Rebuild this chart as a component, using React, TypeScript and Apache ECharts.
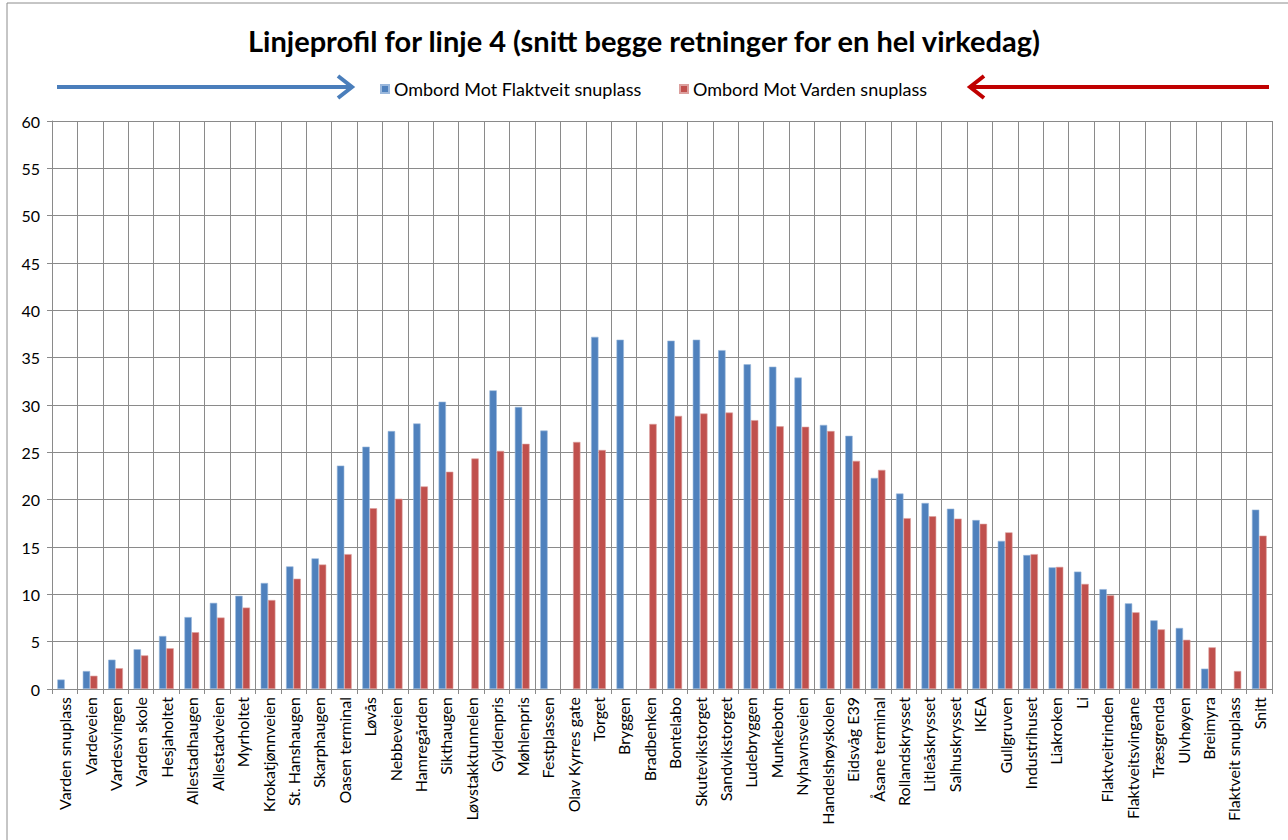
import React, { useEffect, useRef } from "react";
import * as echarts from "echarts";

const stations: string[] = [
  "Varden snuplass", "Vardeveien", "Vardesvingen", "Varden skole", "Hesjaholtet",
  "Allestadhaugen", "Allestadveien", "Myrholtet", "Krokatjønnveien", "St. Hanshaugen",
  "Skarphaugen", "Oasen terminal", "Løvås", "Nebbeveien", "Hamregården", "Sikthaugen",
  "Løvstakktunnelen", "Gyldenpris", "Møhlenpris", "Festplassen", "Olav Kyrres gate",
  "Torget", "Bryggen", "Bradbenken", "Bontelabo", "Skutevikstorget", "Sandvikstorget",
  "Ludebryggen", "Munkebotn", "Nyhavnsveien", "Handelshøyskolen", "Eidsvåg E39",
  "Åsane terminal", "Rollandskrysset", "Litleåskrysset", "Salhuskrysset", "IKEA",
  "Gullgruven", "Industrihuset", "Liakroken", "Li", "Flaktveitrinden", "Flaktveitsvingane",
  "Træsgrenda", "Ulvhøyen", "Breimyra", "Flaktveit snuplass", "Snitt",
];

const towardFlaktveit: (number | null)[] = [
  1.0, 1.9, 3.1, 4.2, 5.6, 7.6, 9.1, 9.85, 11.2, 12.95, 13.8, 23.6, 25.6, 27.25, 28.05,
  30.35, null, 31.55, 29.8, 27.3, null, 37.2, 36.9, null, 36.8, 36.9, 35.8, 34.3, 34.05,
  32.9, 27.9, 26.75, 22.3, 20.65, 19.65, 19.05, 17.85, 15.65, 14.15, 12.85, 12.4, 10.55,
  9.05, 7.25, 6.45, 2.15, null, 18.95,
];

const towardVarden: (number | null)[] = [
  null, 1.4, 2.2, 3.55, 4.3, 6.0, 7.55, 8.6, 9.4, 11.65, 13.15, 14.25, 19.1, 20.1, 21.4,
  22.95, 24.35, 25.15, 25.9, null, 26.1, 25.25, null, 28.0, 28.85, 29.1, 29.2, 28.4, 27.75,
  27.7, 27.25, 24.1, 23.15, 18.05, 18.25, 18.0, 17.45, 16.55, 14.25, 12.9, 11.1, 9.9, 8.1,
  6.3, 5.2, 4.4, 1.9, 16.2,
];

const seriesNames = ["Ombord Mot Flaktveit snuplass", "Ombord Mot Varden snuplass"];
const title = "Linjeprofil for linje 4 (snitt begge retninger for en hel virkedag)";

const FONT = "Lato";
const GRID = "#8a8a8a";
const BLUE = "#4F81BD";
const RED = "#C0504D";

export default function App() {
  const ref = useRef<HTMLDivElement>(null);
  useEffect(() => {
    if (!ref.current) return;
    const chart = echarts.init(ref.current, null, { renderer: "svg" });
    chart.setOption({
      animation: false,
      backgroundColor: "#ffffff",
      textStyle: { fontFamily: FONT },
      title: {
        text: title,
        left: "center",
        top: 21,
        textStyle: { fontFamily: FONT, fontSize: 29, fontWeight: "bold", color: "#000" },
      },
      legend: [
        {
          data: [seriesNames[0]],
          left: 375,
          top: 75,
          icon: "rect",
          itemWidth: 8,
          itemHeight: 8,
          textStyle: { fontFamily: FONT, fontSize: 18, color: "#000" },
        },
        {
          data: [seriesNames[1]],
          left: 674,
          top: 75,
          icon: "rect",
          itemWidth: 8,
          itemHeight: 8,
          textStyle: { fontFamily: FONT, fontSize: 18, color: "#000" },
        },
      ],
      grid: { left: 52, right: 16, top: 121, bottom: 151, containLabel: false },
      xAxis: {
        type: "category",
        data: stations,
        boundaryGap: true,
        axisLine: { show: true, lineStyle: { color: GRID, width: 1 } },
        axisTick: { show: true, length: 5, lineStyle: { color: GRID } },
        splitLine: { show: true, lineStyle: { color: GRID, width: 1 } },
        axisLabel: {
          interval: 0,
          rotate: 90,
          margin: 8,
          fontFamily: FONT,
          fontSize: 16,
          color: "#000",
        },
      },
      yAxis: {
        type: "value",
        min: 0,
        max: 60,
        interval: 5,
        axisLine: { show: true, lineStyle: { color: GRID, width: 1 } },
        axisTick: { show: true, length: 5, lineStyle: { color: GRID } },
        splitLine: { show: true, lineStyle: { color: GRID, width: 1 } },
        axisLabel: { margin: 12, fontFamily: FONT, fontSize: 16, color: "#000" },
      },
      series: [
        {
          name: seriesNames[0],
          type: "bar",
          data: towardFlaktveit,
          barGap: "0%",
          barCategoryGap: "42%",
          itemStyle: { color: BLUE, borderColor: "#9bb8dc", borderWidth: 0.6 },
        },
        {
          name: seriesNames[1],
          type: "bar",
          data: towardVarden,
          barGap: "0%",
          barCategoryGap: "42%",
          itemStyle: { color: RED, borderColor: "#dca09e", borderWidth: 0.6 },
        },
      ],
      graphic: [
        {
          type: "rect",
          shape: { x: 7, y: 3, width: 1300, height: 860 },
          style: { fill: "none", stroke: "#8c8c8c", lineWidth: 1 },
          silent: true,
        },
        {
          type: "line",
          shape: { x1: 57, y1: 87, x2: 350, y2: 87 },
          style: { stroke: "#4A7EBB", lineWidth: 4 },
        },
        {
          type: "polyline",
          shape: { points: [[338, 76], [352, 87], [338, 98]] },
          style: { stroke: "#4A7EBB", lineWidth: 4, fill: "none", lineJoin: "miter" },
        },
        {
          type: "line",
          shape: { x1: 972, y1: 87, x2: 1269, y2: 87 },
          style: { stroke: "#C00000", lineWidth: 4 },
        },
        {
          type: "polyline",
          shape: { points: [[984, 76], [970, 87], [984, 98]] },
          style: { stroke: "#C00000", lineWidth: 4, fill: "none", lineJoin: "miter" },
        },
      ],
    });
    return () => chart.dispose();
  }, []);
  return (
    <div
      ref={ref}
      style={{ position: "absolute", left: 0, top: 0, width: 1288, height: 840 }}
    />
  );
}
